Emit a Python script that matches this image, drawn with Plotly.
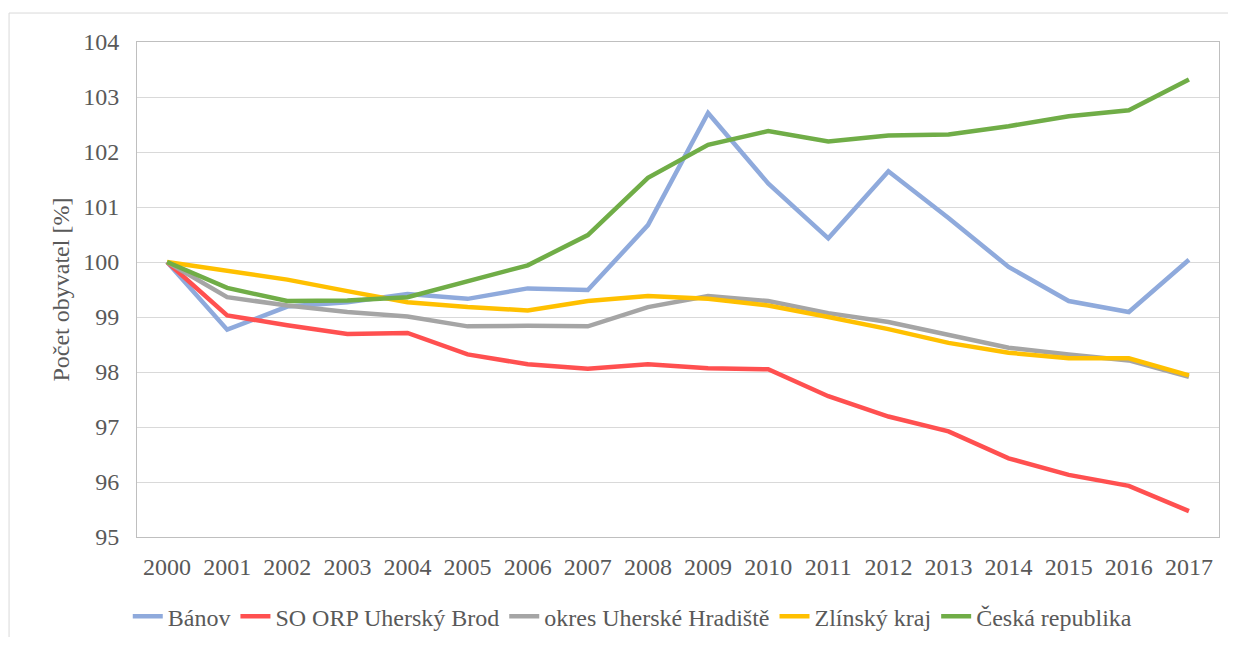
import plotly.graph_objects as go

years = [str(y) for y in range(2000, 2018)]

banov = [100, 98.77, 99.19, 99.27, 99.42, 99.33, 99.52, 99.49, 100.67, 102.71,
         101.43, 100.43, 101.65, 100.80, 99.91, 99.29, 99.09, 100.04]
so_orp = [100, 99.03, 98.85, 98.69, 98.71, 98.32, 98.14, 98.06, 98.14, 98.07,
          98.05, 97.56, 97.19, 96.92, 96.43, 96.13, 95.93, 95.47]
okres = [100, 99.36, 99.21, 99.09, 99.01, 98.83, 98.84, 98.83, 99.18, 99.38,
         99.29, 99.07, 98.91, 98.68, 98.44, 98.32, 98.21, 97.91]
zlinsky = [100, 99.85, 99.68, 99.47, 99.27, 99.18, 99.12, 99.29, 99.38, 99.33,
           99.21, 99.00, 98.78, 98.53, 98.35, 98.25, 98.25, 97.94]
cr = [100, 99.53, 99.29, 99.30, 99.36, 99.64, 99.94, 100.49, 101.53, 102.13,
      102.38, 102.19, 102.30, 102.32, 102.47, 102.65, 102.76, 103.32]

series_names = ["Bánov", "SO ORP Uherský Brod", "okres Uherské Hradiště",
                "Zlínský kraj", "Česká republika"]
series_values = [banov, so_orp, okres, zlinsky, cr]
colors = ["#8FAADC", "#FF5050", "#A5A5A5", "#FFC000", "#70AD47"]

FONT = "Liberation Serif"
TXT = "#595959"

fig = go.Figure()
for name, vals, col in zip(series_names, series_values, colors):
    fig.add_trace(go.Scatter(x=years, y=vals, mode="lines", name=name,
                             line=dict(color=col, width=4.5, shape="linear"),
                             hoverinfo="skip"))

# page offset of 8px (browser body margin)
OFF = 8
W, H = 1220, 629
L = 137 - OFF
T = 41.7 - OFF
R = W - (1219.5 - OFF)
B = H - (537.3 - OFF)
pw = W - L - R
ph = H - T - B


def px_x(x):
    return (x - OFF - L) / pw


def px_y(y):
    return (H - B - (y - OFF)) / ph


fig.update_layout(
    width=W, height=H,
    margin=dict(l=L, r=R, t=T, b=B, autoexpand=False),
    paper_bgcolor="white", plot_bgcolor="white",
    font=dict(family=FONT, size=24, color=TXT),
    showlegend=True,
    legend=dict(orientation="h", x=px_x(633), xanchor="center",
                y=px_y(617), yanchor="middle",
                font=dict(family=FONT, size=24, color=TXT),
                bgcolor="rgba(0,0,0,0)", tracegroupgap=0, itemwidth=30),
    xaxis=dict(type="category", range=[-0.5, 17.5], showgrid=False,
               showline=True, linecolor="#BFBFBF", linewidth=1, mirror=True,
               ticks="", tickfont=dict(family=FONT, size=24, color=TXT),
               ticklabelstandoff=8, zeroline=False, fixedrange=True),
    yaxis=dict(range=[95, 104], dtick=1, tick0=95, showgrid=True,
               gridcolor="#D9D9D9", gridwidth=1,
               showline=True, linecolor="#BFBFBF", linewidth=1, mirror=True,
               ticks="", tickfont=dict(family=FONT, size=24, color=TXT),
               ticklabelstandoff=12, zeroline=False, fixedrange=True),
)

fig.add_annotation(text="Počet obyvatel [%]", textangle=-90,
                   xref="paper", yref="paper", x=px_x(60), y=0.5,
                   xanchor="center", yanchor="middle", showarrow=False,
                   font=dict(family=FONT, size=24, color=TXT))

# outer chart border (left and top edges visible)
fig.add_shape(type="line", xref="paper", yref="paper",
              x0=px_x(9), x1=px_x(9), y0=px_y(700), y1=px_y(12.7),
              line=dict(color="#D9D9D9", width=1), layer="below")
fig.add_shape(type="line", xref="paper", yref="paper",
              x0=px_x(9), x1=px_x(1300), y0=px_y(12.7), y1=px_y(12.7),
              line=dict(color="#D9D9D9", width=1), layer="below")

fig.write_html("out.html")
